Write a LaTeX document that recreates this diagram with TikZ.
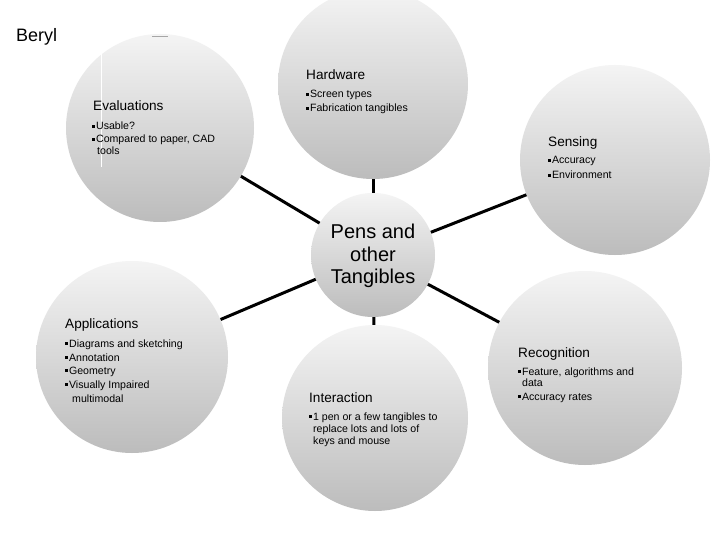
\documentclass[tikz,border=0pt]{standalone}
\usepackage{fontspec}
\setmainfont{Liberation Sans}
\usepackage{tikz}
\usetikzlibrary{positioning}
\definecolor{bubTop}{HTML}{F4F4F4}
\definecolor{bubMid}{HTML}{E4E4E4}
\definecolor{bubBot}{HTML}{BCBCBC}
\tikzset{ln/.style={draw, line width=3pt, black}}
\tikzset{bub/.style={circle, inner sep=0pt, top color=bubTop, middle color=bubMid,
  bottom color=bubBot, shading angle=0}}
\newcommand{\bul}{\rule[2.4pt]{2.5pt}{2.5pt}\hspace{1.4pt}}

\begin{document}
\begin{tikzpicture}[x=1pt,y=-1pt]
        \tikzstyle{hd} = [anchor=base west, inner sep=0pt, font=\fontsize{13.6}{15}\selectfont]
        \tikzstyle{bl} = [anchor=base west, inner sep=0pt, font=\fontsize{10.6}{12}\selectfont]
        \useasboundingbox[fill=white] (0,0) rectangle (720,540);
        %% bubbles
        \node (eval) at (160,128) [bub, minimum size=188pt] {};
        \node (hard) at (373,84) [bub, minimum size=190pt] {};
        \node (sens) at (615,160) [bub, minimum size=190pt] {};
        \node (appl) at (132,357) [bub, minimum size=192pt] {};
        \node (inter) at (375,418) [bub, minimum size=186pt] {};
        \node (recog) at (585,368) [bub, minimum size=194pt] {};
        \node (hub) at (373,255) [bub, minimum size=124pt] {};
        %% spokes
        \draw [ln] (hub) -- (eval); \draw [ln] (hub) -- (hard); \draw [ln] (hub) -- (sens);
        \draw [ln] (hub) -- (appl); \draw [ln] (hub) -- (inter); \draw [ln] (hub) -- (recog);
        %% stray marks
        \draw [white, line width=1pt] (101,50) -- (101,167);
        \draw [black!35, line width=1pt] (152,37) -- (168,37);
        %% title
        \node (title) at (16,42) [anchor=base west, inner sep=0pt, font=\fontsize{18}{20}\selectfont] {Beryl};
        %% hub text
        \node (h1) at (373,238) [anchor=base, inner sep=0pt, font=\fontsize{20}{22}\selectfont] {Pens and};
        \node (h2) at (373,261) [anchor=base, inner sep=0pt, font=\fontsize{20}{22}\selectfont] {other};
        \node (h3) at (373,283) [anchor=base, inner sep=0pt, font=\fontsize{20}{22}\selectfont] {Tangibles};
        %% Evaluations
        \node (e0) at (93,111) [hd] {Evaluations};
        \node (e1) at (92,130) [bl] {\bul Usable?};
        \node (e2) at (92,143) [bl] {\bul Compared to paper, CAD};
        \node (e3) at (97,155) [bl] {tools};
        %% Hardware
        \node (w0) at (306,80) [hd] {Hardware};
        \node (w1) at (306,98) [bl] {\bul Screen types};
        \node (w2) at (306,112) [bl] {\bul Fabrication tangibles};
        %% Sensing
        \node (s0) at (548,147) [hd] {Sensing};
        \node (s1) at (548,164) [bl] {\bul Accuracy};
        \node (s2) at (548,179) [bl] {\bul Environment};
        %% Applications
        \node (a0) at (65,328) [hd] {Applications};
        \node (a1) at (65,347) [bl] {\bul Diagrams and sketching};
        \node (a2) at (65,361) [bl] {\bul Annotation};
        \node (a3) at (65,374) [bl] {\bul Geometry};
        \node (a4) at (65,388) [bl] {\bul Visually Impaired};
        \node (a5) at (72,402) [bl] {multimodal};
        %% Interaction
        \node (i0) at (309,402) [hd] {Interaction};
        \node (i1) at (309,420) [bl] {\bul 1 pen or a few tangibles to};
        \node (i2) at (313,432) [bl] {replace lots and lots of};
        \node (i3) at (313,444) [bl] {keys and mouse};
        %% Recognition
        \node (r0) at (518,357) [hd] {Recognition};
        \node (r1) at (518,375) [bl] {\bul Feature, algorithms and};
        \node (r2) at (522,386) [bl] {data};
        \node (r3) at (518,400) [bl] {\bul Accuracy rates};
\end{tikzpicture}
\end{document}
